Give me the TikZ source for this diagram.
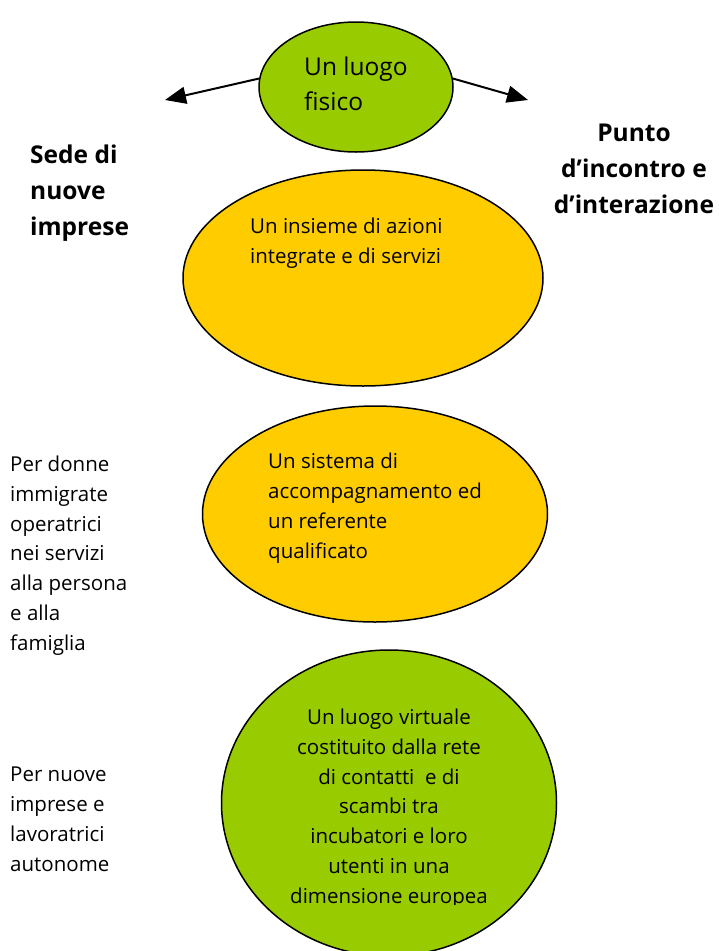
\documentclass[tikz,border=0pt]{standalone}
\usepackage{fontspec}
\setmainfont{Open Sans}
\usetikzlibrary{shapes.geometric,arrows.meta}
\definecolor{leaf}{HTML}{99CC00}
\definecolor{sun}{HTML}{FFCC00}
\begin{document}
\begin{tikzpicture}[x=1pt,y=-1pt,
  blob/.style={ellipse,draw=black,line width=1.5pt,inner sep=0pt},
  txt/.style={inner sep=0pt,font=\fontsize{20.5}{29.7}\selectfont,align=left},
  bigtxt/.style={inner sep=0pt,font=\fontsize{24.5}{35}\selectfont,align=left},
  boldtxt/.style={inner sep=0pt,font=\bfseries\fontsize{24.5}{36}\selectfont},
  arr/.style={line width=2pt,-{Triangle[length=21pt,width=17pt]}}]
\useasboundingbox (0,0) rectangle (718,951);
% ellipses
\node[blob,fill=leaf,minimum width=194pt,minimum height=130pt] (top) at (356,87) {};
\node[blob,fill=sun,minimum width=360pt,minimum height=216pt] (o1) at (363,278) {};
\node[blob,fill=sun,minimum width=345pt,minimum height=216pt] (o2) at (375,514) {};
\node[blob,fill=leaf,minimum width=335pt,minimum height=306pt] (g3) at (389,803) {};
% arrows
\coordinate (la) at (165,100);
\coordinate (ra) at (528,100);
\draw[arr] (top.175) -- (la);
\draw[arr] (top.5) -- (ra);
% texts in ellipses
\node[bigtxt,anchor=base west] (ttop) at (304,110) {Un luogo\\fisico};
\node[txt,anchor=base west] (to1) at (250,263) {Un insieme di azioni\\integrate e di servizi};
\node[txt,anchor=base west] (to2) at (268,558) {Un sistema di\\accompagnamento ed\\un referente\\qualificato};
\begin{scope}
\clip (0,0) rectangle (718,904);
\node[txt,align=center,anchor=base] (tg3) at (389,903) {Un luogo virtuale\\costituito dalla rete\\di contatti\ \ e di\\scambi tra\\incubatori e loro\\utenti in una\\dimensione europea};
\end{scope}
% side texts
\node[boldtxt,align=left,anchor=base west] (sede) at (30,235) {Sede di\\nuove\\imprese};
\node[boldtxt,align=center,anchor=base] (punto) at (634,213) {Punto\\d’incontro e\\d’interazione};
\node[txt,anchor=base west] (donne) at (10,650) {Per donne\\immigrate\\operatrici\\nei servizi\\alla persona\\e alla\\famiglia};
\node[txt,anchor=base west] (nuove) at (10,871) {Per nuove\\imprese e\\lavoratrici\\autonome};
\end{tikzpicture}
\end{document}
